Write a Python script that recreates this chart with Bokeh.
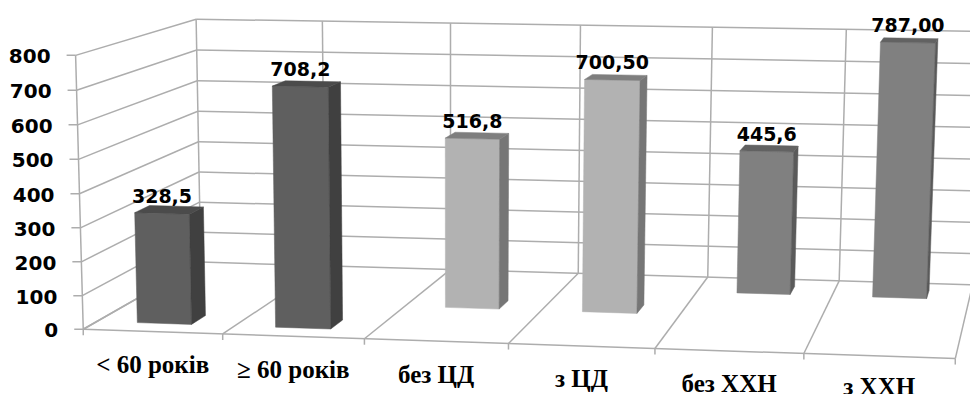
import numpy as np
from bokeh.core.properties import value
from bokeh.embed import file_html
from bokeh.plotting import figure
from bokeh.resources import INLINE

categories = ["< 60 років", "≥ 60 років", "без ЦД", "з ЦД", "без ХХН", "з ХХН"]
values = [328.5, 708.2, 516.8, 700.5, 445.6, 787.0]
value_labels = ["328,5", "708,2", "516,8", "700,50", "445,6", "787,00"]
depth_row = [0, 0, 1, 1, 2, 2]
y_ticks = [0, 100, 200, 300, 400, 500, 600, 700, 800]

# Camera calibration for the 3D box: (category, depth, value) -> page pixels
CAMERA_POINTS = [
    (0, 0, 0, 83, 329), (1, 0, 0, 222.5, 334), (2, 0, 0, 363, 338), (3, 0, 0, 508, 343),
    (4, 0, 0, 655, 348), (5, 0, 0, 803, 353), (6, 0, 0, 955, 357.5),
    (0, 1, 0, 200, 262), (2, 1, 0, 449, 268), (3, 1, 0, 579, 272.5), (4, 1, 0, 708, 277),
    (5, 1, 0, 839, 280), (6, 1, 0, 971, 285),
    (0, 1, 800, 196, 19), (1, 1, 800, 322, 20.5), (2, 1, 800, 450, 22), (3, 1, 800, 580, 24.5),
    (4, 1, 800, 711, 27), (5, 1, 800, 845, 29), (6, 1, 800, 983, 31),
    (0, 0, 800, 75, 55), (0, 0, 400, 79, 193),
]


def fit_camera(points):
    rows, rhs = [], []
    for u, d, v, x, y in points:
        rows.append([u, d, v, 1, 0, 0, 0, 0, -x * u, -x * d, -x * v])
        rhs.append(x)
        rows.append([0, 0, 0, 0, u, d, v, 1, -y * u, -y * d, -y * v])
        rhs.append(y)
    m = np.linalg.lstsq(np.array(rows, float), np.array(rhs, float), rcond=None)[0]
    return np.append(m, 1.0).reshape(3, 4)


CAM = fit_camera([(u, d, v / 800, x, y) for u, d, v, x, y in CAMERA_POINTS])


def project(u, d, v):
    w = CAM @ np.array([u, d, v / 800, 1.0])
    return w[0] / w[2], w[1] / w[2]


def segment(a, b):
    (x0, y0), (x1, y1) = project(*a), project(*b)
    return [x0, x1], [y0, y1]


p = figure(width=970, height=394, x_range=(0, 970), y_range=(394, 0),
           output_backend="svg", toolbar_location=None, min_border=0,
           x_axis_type=None, y_axis_type=None, outline_line_color=None)
p.grid.visible = False

# Walls and floor of the box
n = len(categories)
xs, ys = [], []
for t in y_ticks:
    for a, b in (((0, 1, t), (n, 1, t)), ((0, 0, t), (0, 1, t))):
        sx, sy = segment(a, b)
        xs.append(sx)
        ys.append(sy)
    fx, fy = project(0, 0, t)
    xs.append([fx - 9, fx])
    ys.append([fy, fy])
for i in range(n + 1):
    for a, b in (((i, 1, 0), (i, 1, 800)), ((i, 0, 0), (i, 1, 0))):
        sx, sy = segment(a, b)
        xs.append(sx)
        ys.append(sy)
    fx, fy = project(i, 0, 0)
    xs.append([fx, fx])
    ys.append([fy, fy + 6])
sx, sy = segment((0, 0, 0), (n, 0, 0))
xs.append(sx)
ys.append(sy)
sx, sy = segment((0, 0, 0), (0, 0, 800))
xs.append(sx)
ys.append(sy)
p.multi_line(xs, ys, line_color="#adadad", line_width=1.5)

# Bars: one depth row per grouping, three shaded faces each
ROW_FACES = [("#5f5f5f", "#404040", "#4b4b4b"),
             ("#b2b2b2", "#767676", "#7e7e7e"),
             ("#808080", "#5a5a5a", "#626262")]
ROW_CENTER_U = [0.49, 0.495, 0.495]
HALF_W, HALF_D = 0.197, 0.06

px, py, colors = [], [], []
for i, (val, row) in enumerate(zip(values, depth_row)):
    dc = (row + 0.5) / 3
    u0, u1 = i + ROW_CENTER_U[row] - HALF_W, i + ROW_CENTER_U[row] + HALF_W
    d0, d1 = dc - HALF_D, dc + HALF_D
    front = [(u0, d0, 0), (u1, d0, 0), (u1, d0, val), (u0, d0, val)]
    side = [(u1, d0, 0), (u1, d1, 0), (u1, d1, val), (u1, d0, val)]
    top = [(u0, d0, val), (u1, d0, val), (u1, d1, val), (u0, d1, val)]
    for corners, colour in zip((front, side, top), ROW_FACES[row]):
        pts = [project(*c) for c in corners]
        px.append([q[0] for q in pts])
        py.append([q[1] for q in pts])
        colors.append(colour)
p.patches(px, py, fill_color=colors, line_color=colors, line_width=0.5)

# Value axis labels
tx = [project(0, 0, t)[0] - 25 for t in y_ticks]
ty = [project(0, 0, t)[1] + 1 for t in y_ticks]
p.text(tx, ty, text=[str(t) for t in y_ticks], text_font=value("DejaVu Sans"),
       text_font_style="bold", text_font_size="20px", text_color="#000000",
       text_align="right", text_baseline="middle")

# Labels above the bars
lx, ly = [], []
for i, (val, row) in enumerate(zip(values, depth_row)):
    x, y = project(i + ROW_CENTER_U[row], (row + 0.5) / 3 - HALF_D, val)
    lx.append(x)
    ly.append(y - 17.5)
p.text(lx, ly, text=value_labels, text_font=value("DejaVu Sans"),
       text_font_style="bold", text_font_size="19px", text_color="#000000",
       text_align="center", text_baseline="middle")

# Category labels under the front edge, kept inside the page at the bottom
cx = [project(i + 0.5, 0, 0)[0] for i in range(n)]
cy = [min(project(i + 0.5, 0, 0)[1] + 33, 385.5) for i in range(n)]
p.text(cx, cy, text=categories, text_font=value("Liberation Serif"),
       text_font_style="bold", text_font_size="25px", text_color="#000000",
       text_align="center", text_baseline="middle")

open("out.html", "w").write(file_html(p, INLINE))
